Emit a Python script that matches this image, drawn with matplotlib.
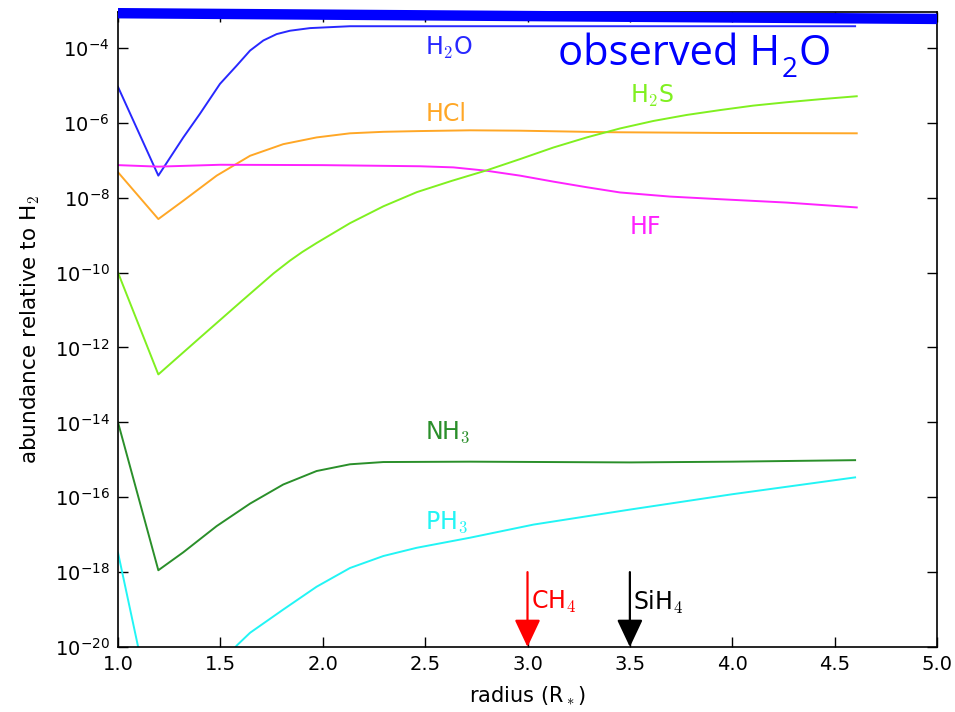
import numpy as np
import matplotlib
matplotlib.use("Agg")
import matplotlib.pyplot as plt
from matplotlib.ticker import FixedLocator, NullLocator, LogFormatterSciNotation

plt.rcParams['mathtext.fontset'] = 'cm'
plt.rcParams['axes.unicode_minus'] = False
plt.rcParams['font.family'] = ['DejaVu Sans']

# radius (R*) and log10 abundance
r_h2o = [1.0, 1.197, 1.319, 1.40, 1.498, 1.58, 1.645, 1.71, 1.775, 1.84, 1.938, 2.133, 2.72, 3.5, 4.0, 4.6]
h2o = [-5.04, -7.41, -6.39, -5.76, -4.96, -4.47, -4.07, -3.80, -3.63, -3.54, -3.47, -3.42, -3.42, -3.42, -3.42, -3.42]

r_hcl = [1.0, 1.197, 1.319, 1.482, 1.645, 1.807, 1.97, 2.133, 2.296, 2.475, 2.72, 2.963, 3.387, 3.94, 4.608]
hcl = [-7.32, -8.57, -8.08, -7.41, -6.88, -6.57, -6.39, -6.28, -6.24, -6.22, -6.20, -6.21, -6.25, -6.27, -6.28]

r_hf = [1.0, 1.197, 1.5, 2.0, 2.475, 2.638, 2.80, 2.963, 3.126, 3.289, 3.452, 3.696, 3.94, 4.266, 4.608]
hf = [-7.13, -7.17, -7.12, -7.13, -7.16, -7.19, -7.28, -7.41, -7.57, -7.72, -7.86, -7.97, -8.04, -8.13, -8.26]

r_h2s = [1.0, 1.197, 1.40, 1.60, 1.76, 1.84, 1.90, 1.97, 2.133, 2.296, 2.46, 2.63, 2.80, 2.963, 3.126,
         3.289, 3.452, 3.615, 3.777, 3.94, 4.103, 4.266, 4.429, 4.608]
h2s = [-10.0, -12.72, -11.74, -10.78, -10.02, -9.68, -9.45, -9.21, -8.68, -8.23, -7.85, -7.55, -7.27, -6.97, -6.66,
       -6.39, -6.15, -5.95, -5.79, -5.66, -5.54, -5.45, -5.37, -5.29]

r_nh3 = [1.0, 1.197, 1.319, 1.482, 1.645, 1.807, 1.97, 2.133, 2.296, 2.72, 3.5, 4.0, 4.6]
nh3 = [-14.0, -17.95, -17.47, -16.77, -16.17, -15.66, -15.30, -15.12, -15.06, -15.05, -15.07, -15.05, -15.01]

r_ph3 = [1.0, 1.2, 1.4, 1.58, 1.645, 1.807, 1.97, 2.133, 2.296, 2.459, 2.72, 3.03, 3.5, 4.0, 4.6]
ph3 = [-17.48, -22.6, -21.2, -19.96, -19.62, -19.0, -18.39, -17.89, -17.57, -17.35, -17.08, -16.73, -16.33, -15.92, -15.47]

observed_r = [1.0, 5.0]
observed_h2o = [-3.072, -3.225]

species = ['H$_2$O', 'HCl', 'HF', 'H$_2$S', 'NH$_3$', 'PH$_3$']
colors = ['#2828ff', '#ffa726', '#ff22ff', '#80f020', '#2a8f2a', '#22f5f5']
label_pos = [(2.5, -4.0), (2.5, -5.76), (3.5, -8.79), (3.5, -5.28), (2.5, -14.27), (2.5, -16.67)]

arrow_r = [3.0, 3.5]
arrow_labels = ['CH$_4$', 'SiH$_4$']
arrow_colors = ['red', 'black']

fig = plt.figure(figsize=(9.55, 7.12), dpi=100)
ax = fig.add_axes([118/955, 1-647/712, (937-118)/955, (647-12)/712])

curves = [(r_h2o, h2o), (r_hcl, hcl), (r_hf, hf), (r_h2s, h2s), (r_nh3, nh3), (r_ph3, ph3)]
for (r, v), c in zip(curves, colors):
    ax.plot(r, 10**np.array(v), color=c, lw=1.4)

for name, c, (x, y) in zip(species, colors, label_pos):
    ax.text(x, 10**y, name, color=c, fontsize=17, va='center', ha='left')

ax.plot(observed_r, 10**np.array(observed_h2o), color='#0000ff', lw=7.5, clip_on=False,
        solid_capstyle='butt', zorder=5)

for x, lab, c in zip(arrow_r, arrow_labels, arrow_colors):
    ax.annotate('', xy=(x, 1e-20), xytext=(x, 1e-18),
                arrowprops=dict(arrowstyle='-|>,head_width=0.8,head_length=1.7', color=c, lw=1.6,
                                shrinkA=0, shrinkB=0))
    ax.text(x + 0.015, 10**-18.8, lab, color=c, fontsize=17, ha='left', va='center')

ax.set_yscale('log')
ax.set_xlim(1.0, 5.0)
ax.set_ylim(1e-20, 10**-3.04)
ax.yaxis.set_major_locator(FixedLocator([10.0**k for k in range(-20, -3, 2)]))
ax.yaxis.set_minor_locator(NullLocator())
ax.yaxis.set_major_formatter(LogFormatterSciNotation())
ax.set_xticks(np.arange(1.0, 5.01, 0.5))
ax.tick_params(direction='in', top=True, right=True, length=7, width=1, labelsize=14, pad=6)
for s in ax.spines.values():
    s.set_linewidth(1.2)
ax.set_xlabel('radius (R$_*$)', fontsize=15, labelpad=7)
ax.set_ylabel('abundance relative to H$_2$', fontsize=15.5, labelpad=9)

# "observed H2O" annotation built from three text pieces (pixel coordinates)
fig.canvas.draw()
renderer = fig.canvas.get_renderer()
x0, base = 558, 712 - 65
t1 = fig.text(x0 / 955, base / 712, 'observed H', color='#0000ff', fontsize=30,
              family='Open Sans', va='baseline', ha='left')
bb = t1.get_window_extent(renderer)
t2 = fig.text((bb.x1 + 1) / 955, (base - 12) / 712, '2', color='#0000ff', fontsize=20,
              family='Open Sans', va='baseline', ha='left')
bb2 = t2.get_window_extent(renderer)
fig.text((bb2.x1 + 1) / 955, base / 712, 'O', color='#0000ff', fontsize=30,
         family='Open Sans', va='baseline', ha='left')

fig.savefig('out.png', dpi=100)
